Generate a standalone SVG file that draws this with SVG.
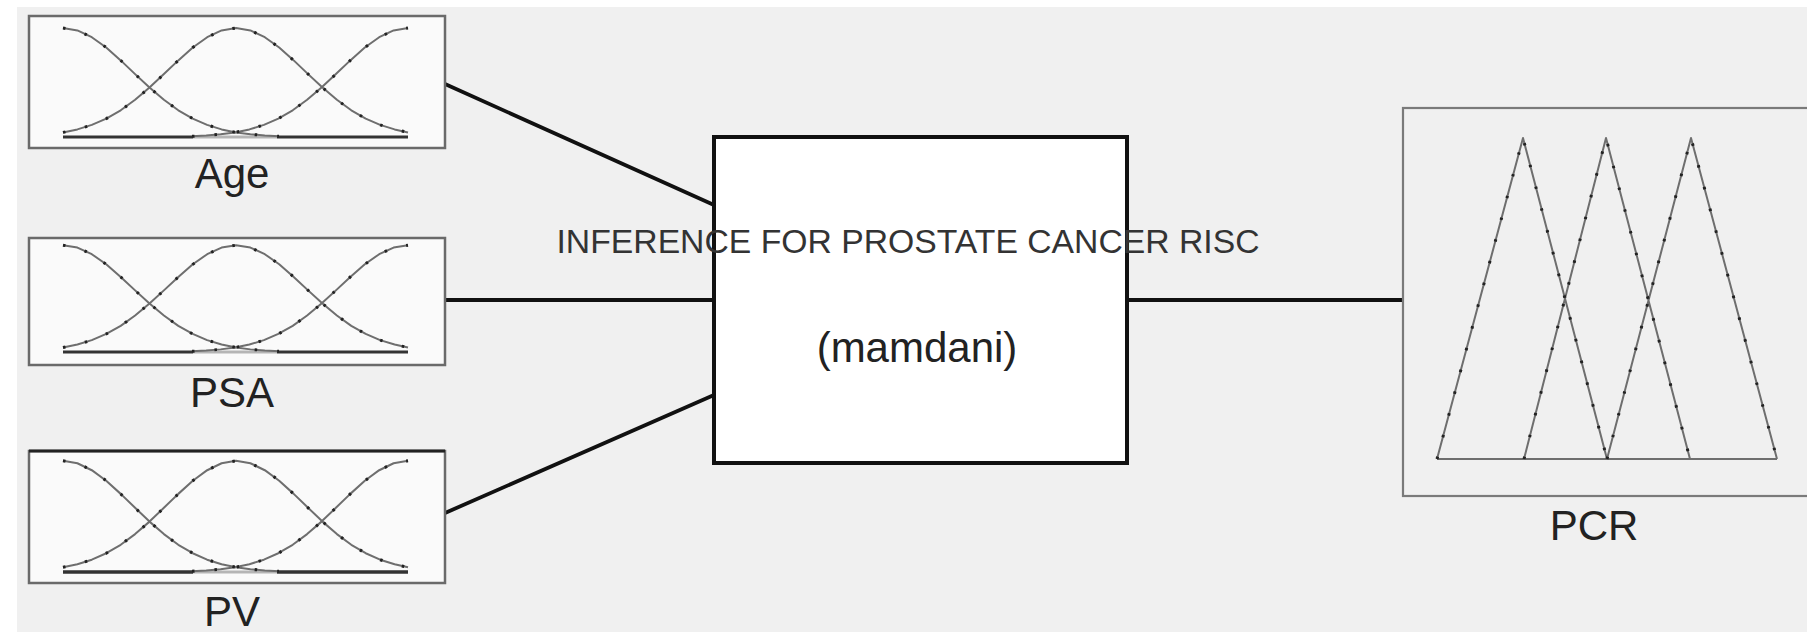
<svg xmlns="http://www.w3.org/2000/svg" width="1807" height="632" viewBox="0 0 1807 632">
  <style>
    .label { font-family: "Liberation Sans", Arial, sans-serif; font-size: 42px; fill: #222; text-anchor: middle; }
    .title { font-family: "Liberation Sans", Arial, sans-serif; font-size: 33px; fill: #333; text-anchor: middle; }
    .inbox { fill: #fafafa; stroke: #6a6a6a; stroke-width: 2.5; }
    .outbox { fill: #f0f0f0; stroke: #7a7a7a; stroke-width: 2.2; }
    .engine { fill: #ffffff; stroke: #111; stroke-width: 4; }
    .mf { fill: none; stroke: #6e6e6e; stroke-width: 2; stroke-linejoin: round; }
    .mfdots { fill: none; stroke: #222; stroke-width: 3; stroke-dasharray: 2.5 20; }
    .wire { stroke: #111; stroke-width: 3.8; fill: none; stroke-linecap: round; }
  </style>
  <defs>
    <!-- three gaussian membership functions, origin at left end of the baseline -->
    <g id="gauss3">
      <path id="g-left" d="M0,-109 L14.4,-106.6 28.8,-99.8 43.2,-89.5 57.7,-76.6 72.1,-62.9 86.5,-49.4 100.9,-37.2 115.3,-26.7 129.7,-18.4 144.1,-12.1 158.6,-7.6 173,-4.6 187.4,-2.7 201.8,-1.5 216,-0.7"/>
      <path id="g-mid" d="M0,-4.6 L14.4,-7.6 28.8,-12.1 43.3,-18.4 57.7,-26.7 72.1,-37.2 86.5,-49.4 100.9,-62.9 115.3,-76.6 129.8,-89.5 144.2,-99.8 158.6,-106.6 173,-109 187.4,-106.6 201.8,-99.8 216.2,-89.5 230.7,-76.6 245.1,-62.9 259.5,-49.4 273.9,-37.2 288.3,-26.7 302.7,-18.4 317.1,-12.1 331.6,-7.6 345,-4.6"/>
      <path id="g-right" d="M129,-0.7 L143.2,-1.5 157.6,-2.7 172,-4.6 186.4,-7.6 200.9,-12.1 215.3,-18.4 229.7,-26.7 244.1,-37.2 258.5,-49.4 272.9,-62.9 287.3,-76.6 301.8,-89.5 316.2,-99.8 330.6,-106.6 345,-109"/>
    </g>
    <g id="mfset">
      <line x1="0" y1="0" x2="130" y2="0" stroke="#333" stroke-width="3.2"/>
      <line x1="130" y1="0" x2="214" y2="0" stroke="#b5b5b5" stroke-width="3"/>
      <line x1="214" y1="0" x2="345" y2="0" stroke="#333" stroke-width="3.2"/>
      <use href="#gauss3" class="mf"/>
      <use href="#gauss3" class="mfdots"/>
    </g>
    <!-- three triangular output membership functions -->
    <path id="tri3" d="M1437,459 L1523,138 L1607,459 M1524,459 L1606,138 L1690,459 M1607,459 L1691,138 L1777,459"/>
  </defs>

  <!-- canvas -->
  <rect x="0" y="0" width="1807" height="632" fill="#ffffff"/>
  <rect x="17" y="7" width="1790" height="625" fill="#f0f0f0"/>

  <!-- connectors -->
  <g id="connectors">
    <line class="wire" x1="445" y1="84" x2="714" y2="205"/>
    <line class="wire" x1="445" y1="300" x2="714" y2="300"/>
    <line class="wire" x1="445" y1="513" x2="714" y2="395"/>
    <line class="wire" x1="1127" y1="300" x2="1403" y2="300"/>
  </g>

  <!-- input: Age -->
  <g id="node-age">
    <rect class="inbox" x="29" y="16" width="416" height="132"/>
    <use href="#mfset" transform="translate(63,137)"/>
    <text class="label" x="232" y="188">Age</text>
  </g>

  <!-- input: PSA -->
  <g id="node-psa">
    <rect class="inbox" x="29" y="238" width="416" height="127"/>
    <use href="#mfset" transform="translate(63,352) scale(1,0.98)"/>
    <text class="label" x="232" y="407">PSA</text>
  </g>

  <!-- input: PV -->
  <g id="node-pv">
    <rect class="inbox" x="29" y="451" width="416" height="132"/>
    <line x1="29" y1="451" x2="445" y2="451" stroke="#222" stroke-width="3"/>
    <use href="#mfset" transform="translate(63,572) scale(1,1.02)"/>
    <text class="label" x="232" y="626">PV</text>
  </g>

  <!-- rule engine -->
  <g id="node-engine">
    <rect class="engine" x="714" y="137" width="413" height="326"/>
    <text class="title" x="908" y="253" textLength="703" lengthAdjust="spacingAndGlyphs">INFERENCE FOR PROSTATE CANCER RISC</text>
    <text class="label" x="917" y="362">(mamdani)</text>
  </g>

  <!-- output: PCR -->
  <g id="node-pcr">
    <rect class="outbox" x="1403" y="108" width="420" height="388"/>
    <line x1="1437" y1="459" x2="1777" y2="459" stroke="#6e6e6e" stroke-width="2"/>
    <use href="#tri3" class="mf"/>
    <use href="#tri3" class="mfdots"/>
    <text class="label" x="1594" y="540">PCR</text>
  </g>
</svg>
